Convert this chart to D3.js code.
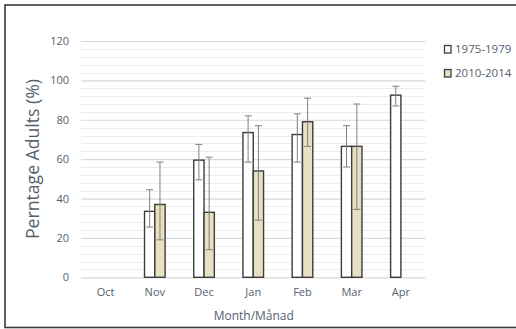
<!DOCTYPE html>
<html>
<head>
<meta charset="utf-8">
<script src="https://cdn.jsdelivr.net/npm/d3@7"></script>
<style>
  html, body { margin: 0; padding: 0; background: #fff; }
  svg { display: block; }
</style>
</head>
<body>
<svg id="chart" width="516" height="329"></svg>
<script>
// Monthly share of adults, two survey periods (mean with error range)
const months = ["Oct", "Nov", "Dec", "Jan", "Feb", "Mar", "Apr"];
const seriesNames = ["1975-1979", "2010-2014"];
const mean1975 = [null, 33.5, 59.5, 73.5, 72.5, 66.5, 92.5];
const high1975 = [null, 44.5, 67.5, 82, 83, 77, 97];
const low1975  = [null, 25.5, 49.5, 58.5, 58.5, 56, 87];
const mean2010 = [null, 37, 33, 54, 79, 66.5, null];
const high2010 = [null, 58.5, 61, 77, 91, 88, null];
const low2010  = [null, 19, 14, 29, 66.5, 34.5, null];
const yTicks = [0, 20, 40, 60, 80, 100, 120];

const svg = d3.select("#chart");
const W = 516, H = 329;
const plot = { left: 81, right: 425.5, top: 41, bottom: 277.3 };
const font = "'Open Sans', 'Liberation Sans', sans-serif";
const textGray = "#55606e";

// outer frame
svg.append("rect")
  .attr("x", 5).attr("y", 5).attr("width", W + 10).attr("height", 322.5)
  .attr("fill", "none").attr("stroke", "#3a3a3a").attr("stroke-width", 1.6);

const x = d3.scaleBand().domain(months).range([plot.left, plot.right]).padding(0);
const y = d3.scaleLinear().domain([0, 120]).range([plot.bottom, plot.top]);

// minor gridlines every 4, major every 20
const minor = d3.range(0, 121, 4).filter(v => v % 20 !== 0);
svg.append("g").selectAll("line").data(minor).join("line")
  .attr("x1", plot.left).attr("x2", plot.right)
  .attr("y1", d => Math.round(y(d)) + 0.5).attr("y2", d => Math.round(y(d)) + 0.5)
  .attr("stroke", "#ececec").attr("stroke-width", 1);

const yAxis = d3.axisLeft(y).tickValues(yTicks).tickSize(-(plot.right - plot.left)).tickPadding(12);
const gy = svg.append("g").attr("transform", `translate(${plot.left},0)`).call(yAxis);
gy.select(".domain").remove();
gy.selectAll(".tick line").attr("stroke", "#d9d9d9").attr("stroke-width", 1.2);
gy.selectAll(".tick text")
  .attr("fill", textGray).attr("font-family", font).attr("font-size", 11);

// category labels
const xAxis = d3.axisBottom(x).tickSize(0).tickPadding(11);
const gx = svg.append("g").attr("transform", `translate(0,${plot.bottom})`).call(xAxis);
gx.select(".domain").remove();
gx.selectAll(".tick text")
  .attr("fill", textGray).attr("font-family", font).attr("font-size", 11);

// bars with error ranges
const barW = 10.3;
const series = [
  { name: seriesNames[0], mean: mean1975, hi: high1975, lo: low1975, fill: "#ffffff", offset: -barW },
  { name: seriesNames[1], mean: mean2010, hi: high2010, lo: low2010, fill: "#e7e0c2", offset: 0 }
];

series.forEach(s => {
  const rows = months.map((m, i) => ({ m, v: s.mean[i], hi: s.hi[i], lo: s.lo[i] }))
    .filter(d => d.v != null);
  const cx = d => x(d.m) + x.bandwidth() / 2 + s.offset;
  const g = svg.append("g");
  g.selectAll("rect").data(rows).join("rect")
    .attr("x", d => cx(d)).attr("width", barW)
    .attr("y", d => y(d.v)).attr("height", d => y(0) - y(d.v))
    .attr("fill", s.fill).attr("stroke", "#3c3c3c").attr("stroke-width", 1.4);

  const eb = g.selectAll("g.err").data(rows).join("g").attr("class", "err");
  eb.append("line")
    .attr("x1", d => cx(d) + barW / 2).attr("x2", d => cx(d) + barW / 2)
    .attr("y1", d => y(d.hi)).attr("y2", d => y(d.lo))
    .attr("stroke", "#7f7f7f").attr("stroke-width", 1);
  ["hi", "lo"].forEach(k => {
    eb.append("line")
      .attr("x1", d => cx(d) + barW / 2 - 3.5).attr("x2", d => cx(d) + barW / 2 + 3.5)
      .attr("y1", d => y(d[k])).attr("y2", d => y(d[k]))
      .attr("stroke", "#7f7f7f").attr("stroke-width", 1);
  });
});

// legend
const legend = svg.append("g").attr("transform", "translate(444,45)");
series.forEach((s, i) => {
  const row = legend.append("g").attr("transform", `translate(0,${i * 24})`);
  row.append("rect").attr("x", 0.5).attr("y", 0.5).attr("width", 6.5).attr("height", 7.5)
    .attr("fill", s.fill).attr("stroke", "#3c3c3c").attr("stroke-width", 1.3);
  row.append("text").attr("x", 11).attr("y", 8)
    .attr("fill", textGray).attr("font-family", font)
    .attr("font-size", 11.5).text(s.name);
});

// axis titles
svg.append("text")
  .attr("x", (plot.left + plot.right) / 2 + 0.5).attr("y", 320)
  .attr("text-anchor", "middle")
  .attr("fill", textGray).attr("font-family", font)
  .attr("font-size", 12).text("Month/Månad");

svg.append("text")
  .attr("transform", "translate(38.5,159) rotate(-90)")
  .attr("text-anchor", "middle")
  .attr("fill", "#56606c").attr("font-family", font)
  .attr("font-size", 17.5)
  .attr("textLength", 160).attr("lengthAdjust", "spacingAndGlyphs")
  .text("Perntage Adults (%)");
</script>
</body>
</html>
